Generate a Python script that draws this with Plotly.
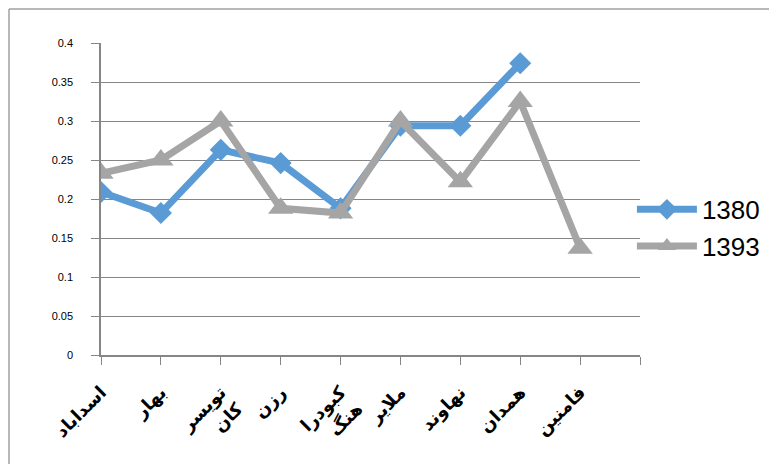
import plotly.graph_objects as go

categories = ["اسداباد", "بهار", "تویسر<br>کان", "رزن", "کبودرا<br>هنگ", "ملایر", "نهاوند", "همدان", "فامنین"]
series_1380 = [0.209, 0.182, 0.263, 0.246, 0.188, 0.294, 0.294, 0.374, None]
series_1393 = [0.233, 0.250, 0.300, 0.188, 0.182, 0.300, 0.222, 0.325, 0.137]
y_tick_vals = [0, 0.05, 0.1, 0.15, 0.2, 0.25, 0.3, 0.35, 0.4]
y_tick_text = ["0", "0.05", "0.1", "0.15", "0.2", "0.25", "0.3", "0.35", "0.4"]

# the page body has an 8px default margin, so the figure is drawn 8px in
OFF = 8
W, H = 777 - OFF, 464 - OFF
L, R, T, B = 101 - OFF, 137, 43 - OFF, 109

xs = list(range(len(categories)))

fig = go.Figure()
fig.add_trace(go.Scatter(
    x=xs, y=series_1380, name="1380", mode="lines+markers",
    line=dict(color="#5B9BD5", width=7),
    marker=dict(symbol="diamond", size=17, color="#5B9BD5"),
    connectgaps=False,
))
fig.add_trace(go.Scatter(
    x=xs, y=series_1393, name="1393", mode="lines+markers",
    line=dict(color="#A5A5A5", width=7),
    marker=dict(symbol="triangle-up", size=22, color="#A5A5A5"),
))

fig.update_layout(
    width=W, height=H,
    margin=dict(l=L, r=R, t=T, b=B, autoexpand=False),
    paper_bgcolor="white", plot_bgcolor="white",
    font=dict(family="Liberation Sans, Arial", color="black"),
    showlegend=True,
    legend=dict(
        x=0.985, xanchor="left", y=0.542, yanchor="top",
        font=dict(size=26, family="Liberation Sans, Arial"),
        itemwidth=60, bgcolor="rgba(0,0,0,0)",
    ),
    xaxis=dict(
        range=[0, len(categories)],
        tickmode="array",
        tickvals=list(range(len(categories) + 1)),
        ticktext=["<b>" + c + "</b>" for c in categories] + [""],
        tickangle=-45,
        tickfont=dict(family="DejaVu Sans", size=18, color="black"),
        ticks="outside", ticklen=8, tickcolor="#868686", tickwidth=1,
        ticklabelstandoff=10,
        showline=True, linecolor="#868686", linewidth=1.5,
        showgrid=False, zeroline=False,
        fixedrange=True,
    ),
    yaxis=dict(
        range=[0, 0.4],
        tickmode="array", tickvals=y_tick_vals, ticktext=y_tick_text,
        tickfont=dict(size=11, color="black"),
        ticks="outside", ticklen=8, tickcolor="#868686",
        showline=True, linecolor="#868686", linewidth=1.5,
        showgrid=True, gridcolor="#868686", gridwidth=1,
        zeroline=False, ticklabelstandoff=16,
    ),
)

# chart border (top and left edges)
def px_x(p):
    return (p - OFF - L) / (W - L - R)

def px_y(p):
    return (H - B - (p - OFF)) / (H - T - B)

fig.add_shape(type="line", xref="paper", yref="paper",
              x0=px_x(9), x1=px_x(777), y0=px_y(9), y1=px_y(9),
              line=dict(color="#A0A0A0", width=1.5))
fig.add_shape(type="line", xref="paper", yref="paper",
              x0=px_x(9), x1=px_x(9), y0=px_y(9), y1=px_y(464),
              line=dict(color="#A0A0A0", width=1.5))

fig.write_html("out.html")
